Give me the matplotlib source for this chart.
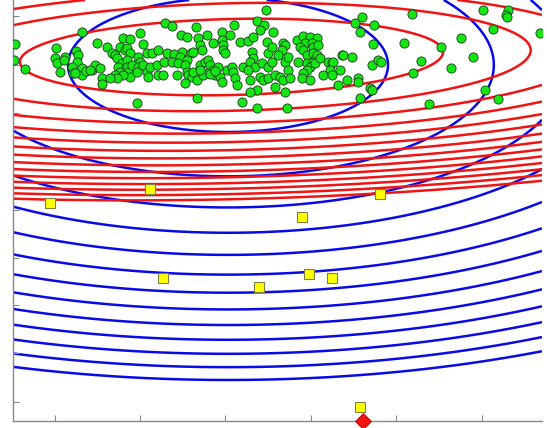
import numpy as np
import matplotlib
matplotlib.use('Agg')
import matplotlib.pyplot as plt

# Ellipse families (centre, half-axes for level 1, tilt)
red_center = (231.5, 57.0)
red_radii = (211.6, 38.0)
red_tilt_deg = -1.35
red_levels = [1, 2, 3, 4, 5, 6, 7, 8, 9, 10, 11, 12, 13, 14]

blue_center = (228.0, 65.0)
blue_radii = (160.0, 67.0)
blue_tilt_deg = 0.0
blue_levels = [1.0, 2.76, 4.52, 6.27, 8.03, 9.79, 11.55, 13.31, 15.06, 16.82, 18.58, 20.34, 22.1]

# Green samples
green_x = [15, 14, 25,
           82, 140, 97, 107, 123, 130, 143, 56, 65, 55, 76, 78, 77, 57, 64, 60, 72, 73, 82, 82, 86, 92,
           95, 100, 102, 102, 112, 115, 117, 120, 125, 127, 130, 122, 118, 120, 127, 127, 128, 130, 123,
           115, 117, 132, 138, 140, 138, 137, 143, 147, 148, 147, 152, 150, 157, 158, 158, 137, 90, 75, 110,
           165, 172, 196, 234, 257, 266, 264, 181, 187, 207, 198, 200, 202, 213, 222, 222, 230, 223, 223,
           225, 240, 248, 253, 260, 267, 268, 167, 174, 182, 180, 191, 193, 187, 164, 172, 178, 185, 187,
           188, 192, 193, 197, 200, 205, 208, 210, 213, 208, 203, 215, 220, 222, 218, 227, 232, 233, 235,
           237, 243, 252, 253, 250, 255, 262, 268, 248, 250, 260, 263, 268, 257, 250, 242, 257, 197, 163,
           177, 185, 210, 215, 200,
           273, 283, 285, 272, 282, 278, 272, 285, 288, 297, 303, 310, 317, 305, 312, 313, 318, 300, 303,
           307, 313, 317, 298, 307, 313, 310, 307, 303, 302, 310, 315, 320, 328, 332, 333, 342, 343, 352,
           340, 330, 323, 332, 338, 347, 358, 358, 370, 372, 360, 372, 378, 275, 280, 283, 288, 290, 285,
           275, 287, 362, 355, 374, 360, 373,
           381, 412, 404, 421, 413, 441, 461, 473, 451, 429, 483, 508, 506, 507, 493, 540, 485, 498]
green_y = [44, 60, 69,
           32, 33, 43, 47, 38, 39, 44, 48, 57, 58, 51, 55, 62, 63, 60, 72, 67, 73, 68, 75, 71, 70,
           65, 68, 78, 84, 53, 55, 58, 47, 50, 48, 53, 63, 67, 72, 60, 67, 72, 77, 75,
           75, 78, 65, 57, 62, 67, 72, 65, 72, 77, 53, 53, 67, 65, 75, 50, 103, 70, 73, 78,
           23, 26, 27, 25, 21, 10, 25, 35, 37, 35, 38, 45, 50, 43, 32, 40, 35, 45, 50,
           53, 42, 41, 37, 30, 42, 53, 53, 54, 52, 57, 53, 52, 60, 62, 62, 63, 65, 72,
           75, 77, 72, 80, 65, 62, 60, 65, 70, 73, 75, 75, 77, 82, 67, 70, 67, 72, 78,
           85, 67, 52, 58, 62, 67, 63, 67, 70, 80, 77, 80, 78, 90, 92, 102, 108, 98, 75,
           75, 83, 74, 71, 70,
           32, 43, 45, 47, 50, 55, 62, 62, 57, 40, 36, 37, 38, 43, 43, 47, 45, 47, 50,
           55, 53, 55, 62, 63, 62, 67, 70, 73, 78, 80, 63, 58, 62, 63, 62, 55, 55, 57,
           70, 70, 75, 75, 85, 80, 78, 82, 88, 90, 98, 65, 60, 75, 77, 80, 70, 78, 92,
           87, 108, 17, 23, 25, 32, 44,
           62, 14, 43, 61, 73, 47, 38, 57, 68, 104, 10, 10, 15, 17, 29, 33, 90, 99]

# Yellow squares and the red diamond
square_x = [50, 150, 380, 302, 163, 309, 332, 259, 360]
square_y = [203, 189, 194, 217, 278, 274, 278, 287, 407]
query_x = [363]
query_y = [421]

x_ticks = [55, 140, 225, 311, 396, 482]
y_ticks = [16, 65, 113, 162, 210, 258, 305, 353, 402]


def quad_form(X, Y, center, radii, tilt_deg):
    a = np.deg2rad(tilt_deg)
    dx = X - center[0]
    dy = Y - center[1]
    u = dx * np.cos(a) + dy * np.sin(a)
    v = -dx * np.sin(a) + dy * np.cos(a)
    return (u / radii[0]) ** 2 + (v / radii[1]) ** 2


fig = plt.figure(figsize=(5.47, 4.28), dpi=100)
ax = fig.add_axes([13 / 547, 7 / 428, 529 / 547, 421 / 428])

gx, gy = np.meshgrid(np.linspace(13, 542, 700), np.linspace(0, 421, 560))
ax.contour(gx, gy, quad_form(gx, gy, blue_center, blue_radii, blue_tilt_deg),
           levels=blue_levels, colors='#0a0ae6', linewidths=1.8, zorder=1)
ax.contour(gx, gy, quad_form(gx, gy, red_center, red_radii, red_tilt_deg),
           levels=red_levels, colors='#f01414', linewidths=1.8, zorder=2)

ax.plot(green_x, green_y, 'o', color='#14e614', markeredgecolor='#1a3a1a',
        markeredgewidth=0.6, markersize=6.6, zorder=3)
ax.plot(square_x, square_y, 's', color='#ffff00', markeredgecolor='#808040',
        markeredgewidth=0.8, markersize=7.5, zorder=4)
ax.plot(query_x, query_y, 'D', color='#f01414', markeredgecolor='#b00000',
        markeredgewidth=0.6, markersize=8, zorder=5, clip_on=False)

ax.set_xlim(13, 542)
ax.set_ylim(421, 0)
ax.set_xticks(x_ticks)
ax.set_yticks(y_ticks)
ax.tick_params(direction='in', length=4, color='#888888', labelbottom=False, labelleft=False)
for side in ['top', 'right']:
    ax.spines[side].set_visible(False)
for side in ['left', 'bottom']:
    ax.spines[side].set_color('#888888')
    ax.spines[side].set_linewidth(1.0)

plt.savefig('out.png', dpi=100)
